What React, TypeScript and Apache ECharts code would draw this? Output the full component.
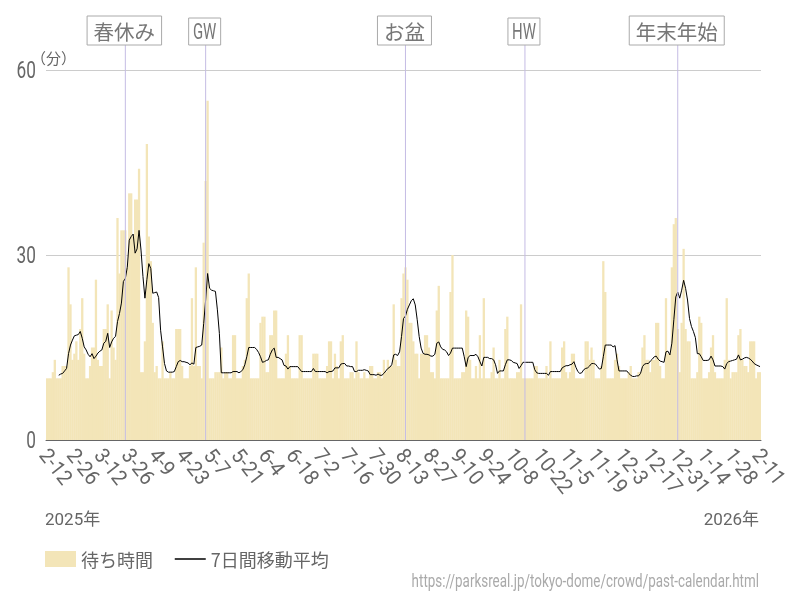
import React, { useEffect, useRef } from "react";
import * as echarts from "echarts";

const FONT = "Roboto, 'Noto Sans CJK JP', sans-serif";
const CJK = "'Noto Sans CJK JP', sans-serif";
const TEXT = "#666666";

const waitTimes = [
  10,10,10,11,13,10,10,10,12,12,
  12,28,22,13,14,16,13,18,23,14,
  10,10,12,15,15,26,13,12,12,18,
  18,22,10,21,15,13,36,27,34,34,
  34,28,40,40,33,39,39,44,11,11,
  16,48,33,29,19,11,12,10,10,16,
  10,10,10,11,10,10,18,18,18,12,
  10,10,10,12,23,12,28,12,12,10,
  32,42,55,10,10,10,11,11,11,15,
  10,11,11,10,10,17,17,10,10,10,
  12,13,23,27,10,10,10,10,10,19,
  20,20,11,11,17,17,21,21,10,10,
  10,10,14,17,12,10,10,10,10,17,
  17,10,10,10,10,10,14,14,14,10,
  10,10,10,12,16,16,10,14,12,10,
  16,17,10,10,10,11,11,10,16,11,
  10,10,11,10,10,12,12,10,10,11,
  11,10,13,11,13,12,12,22,13,12,
  12,23,27,28,26,19,19,16,14,14,
  10,14,14,17,17,15,11,11,10,21,
  25,10,10,10,10,10,24,30,10,10,
  10,10,11,11,21,20,13,10,10,12,
  10,17,10,23,10,10,10,11,15,10,
  10,13,10,10,18,20,10,10,10,10,
  11,11,22,10,10,10,10,10,10,12,
  12,10,10,10,10,12,10,16,10,10,
  10,10,10,15,16,11,10,11,14,14,
  10,10,10,10,10,16,16,13,15,13,
  10,10,10,12,29,24,10,10,10,10,
  13,14,12,10,10,10,10,11,12,10,
  10,10,11,11,15,17,13,13,11,13,
  13,19,19,12,10,10,23,14,14,28,
  35,36,18,11,19,31,18,16,16,10,
  10,10,11,20,19,10,10,10,11,15,
  17,11,10,10,10,10,13,23,13,10,
  11,11,11,17,18,13,12,12,11,16,
  16,16,10,11,11,
];

const movingAverage = [
  null,null,null,null,null,null,10.5,10.7,10.8,11.2,
  11.6,14,15.4,16.2,16.9,17,17.1,17.6,16.5,15.1,
  14.6,13.9,13.5,14,13.2,13.6,14.1,14.4,14.6,15.7,
  16,17.3,15,15.9,16.5,16.8,19.2,20.5,22.2,25.7,
  26.2,28,32.4,33,33.4,30.3,31,34,30.8,26.5,
  23,26,28.6,27.8,23.8,23.9,24,23.1,17.8,15.1,
  12.4,11.2,11,11,11,11.1,11.9,12.7,12.9,12.7,
  12.7,12.6,12.5,12.2,12.5,12.3,15,15.1,15.2,15.4,
  18.9,22.7,27,24.6,24.3,24.2,24.1,21.1,17.3,10.9,
  10.9,10.9,10.9,10.9,10.9,11.1,11.1,11.1,10.9,11.1,
  11.4,12.2,13.5,15,15,15,15,14.7,14.2,13.5,
  12.6,12.7,12.9,13,13.9,14.6,14.9,13.4,13.4,13.2,
  13,12.1,12,11.5,11.9,11.9,11.9,11.9,11.9,11.5,
  11.1,11.1,11.1,11.1,11.1,11.1,11.6,11.1,11.1,11.1,
  11.1,11.1,11.1,10.9,11.1,11.1,11.2,11.7,11.7,11.7,
  12.3,12.4,12.4,12,12,11.9,11.9,11.1,11.1,11.3,
  11.3,11.3,11.4,11.3,11.2,10.6,10.6,10.6,10.5,10.7,
  10.5,10.5,10.8,11.2,11.6,11.8,12.2,13.8,13.9,13.7,
  14.3,16.8,19.7,20.1,21.2,21.9,22.6,22.9,21.9,19.5,
  16.8,14.9,14.05,13.9,13.9,13.8,13.6,13.6,13.9,15.7,
  15.9,15.1,14.7,14.6,14.3,13.7,14.1,14.9,14.9,14.9,
  14.9,14.9,14.9,13.5,11.9,13.4,13.7,13.7,13.7,13.9,
  13.5,12.7,12,13.4,13.4,13.4,13.2,13.2,13,12.2,
  10.8,11.2,11.2,11.2,12.2,13,13,12.9,12.6,12.5,
  12.4,11.6,12.05,12.6,12.6,12.6,12.6,12.6,12.6,11.4,
  10.9,10.8,10.8,10.8,10.8,10.8,10.5,11.1,11.1,11.1,
  11.1,11.1,11.1,11.7,11.9,12.05,12.05,12.2,12.3,12.7,
  11.8,11.1,10.8,10.9,11.4,11.6,11.7,12,12.4,12.4,
  12.3,11.9,11.5,11.6,13.5,15.4,15.4,15.4,15.4,15.1,
  15.3,13,11.2,11.2,11.2,11.2,11.2,10.8,10.5,10.3,
  10.3,10.4,10.4,10.8,11.9,12.3,12.4,12.4,12.8,13.1,
  13.5,13.6,13.1,12.8,12.7,12.6,14.3,14.4,13.8,15.7,
  19.5,23.2,24,23,24.3,25.9,24.6,22.7,19.7,18.4,
  17.6,16.6,14,14,13.5,12.9,12.9,12.9,13,13.6,
  13,12,12,12,12,11.9,11.5,12.4,12.7,12.8,
  12.9,13,13.1,13.8,13,13.1,13.3,13.4,13.3,13.1,
  12.8,12.4,12.2,12.05,11.9,
];

const startMonthDay = [1, 12]; // Feb 12 (0-based month)
const categories = waitTimes.map((_, i) => {
  const d = new Date(Date.UTC(2025, startMonthDay[0], startMonthDay[1] + i));
  return `${d.getUTCMonth() + 1}-${d.getUTCDate()}`;
});

const xTickLabels = [
  "2-12","2-26","3-12","3-26","4-9","4-23","5-7","5-21","6-4","6-18","7-2","7-16","7-30",
  "8-13","8-27","9-10","9-24","10-8","10-22","11-5","11-19","12-3","12-17","12-31","1-14","1-28","2-11",
];
const yTickValues = [0, 30, 60];
const markerLabels = ["春休み", "GW", "お盆", "HW", "年末年始"];
const markerDates = ["3-24", "5-4", "8-14", "10-14", "12-31"];

export default function App() {
  const ref = useRef<HTMLDivElement>(null);
  useEffect(() => {
    const chart = echarts.init(ref.current!, undefined, { renderer: "svg" });
    chart.setOption({
      animation: false,
      grid: { left: 46, right: 39, top: 70, bottom: 160 },
      legend: {
        left: 45,
        top: 550,
        padding: 0,
        itemWidth: 31,
        itemHeight: 16,
        itemGap: 21,
        itemStyle: { borderWidth: 0 },
        data: [
          { name: "待ち時間", icon: "rect" },
          { name: "7日間移動平均", itemStyle: { opacity: 0 } },
        ],
        lineStyle: { width: 1.5, color: "#000000" },
        textStyle: { fontFamily: CJK, fontSize: 18, color: TEXT },
      },
      xAxis: {
        type: "category",
        data: categories,
        boundaryGap: true,
        axisTick: { show: false },
        axisLine: { lineStyle: { color: "#666666", width: 1 } },
        axisLabel: { show: false },
      },
      yAxis: {
        type: "value",
        min: 0,
        max: 60,
        interval: 30,
        axisLine: { show: false },
        axisTick: { show: false },
        splitLine: { lineStyle: { color: "#cccccc", width: 1 } },
        axisLabel: { show: false },
      },
      series: [
        {
          name: "待ち時間",
          type: "bar",
          data: waitTimes,
          barWidth: 2.3,
          itemStyle: { color: "#f3e5b8" },
          emphasis: { disabled: true },
        },
        {
          name: "7日間移動平均",
          type: "line",
          data: movingAverage,
          showSymbol: false,
          symbol: "none",
          itemStyle: { color: "#000000" },
          lineStyle: { color: "#000000", width: 1 },
          emphasis: { disabled: true },
          z: 5,
        },
        {
          type: "custom",
          silent: true,
          z: 6,
          data: markerDates.map((d) => [categories.indexOf(d), 60]),
          encode: { x: 0, y: 1 },
          renderItem: (p: any, api: any) => {
            const [px, py] = api.coord([api.value(0), 60]);
            const [, py0] = api.coord([api.value(0), 0]);
            const label = markerLabels[p.dataIndex];
            const ascii = /^[A-Z]+$/.test(label);
            const w = ascii ? 32 : label.length * 20.5 + 13;
            const h = ascii ? 27 : 29;
            const bottom = py - 25;
            const cx = px - 1;
            return {
              type: "group",
              children: [
                { type: "line", shape: { x1: px, y1: bottom, x2: px, y2: py0 }, style: { stroke: "#c4bce4", lineWidth: 1 } },
                { type: "rect", shape: { x: cx - w / 2, y: bottom - h, width: w, height: h }, style: { fill: "#ffffff", stroke: "#aaaaaa", lineWidth: 1 } },
                {
                  type: "text",
                  x: cx,
                  y: bottom - h / 2,
                  scaleX: ascii ? 0.68 : 1,
                  style: {
                    text: label,
                    align: "center",
                    verticalAlign: "middle",
                    fontSize: ascii ? 22 : 20.5,
                    fontFamily: ascii ? FONT : CJK,
                    fill: "#777777",
                  },
                },
              ],
            };
          },
        },
        {
          // x tick labels, narrowed as in the reference
          type: "custom",
          silent: true,
          data: xTickLabels.map((t, k) => [k * 14, 0, t]),
          encode: { x: 0, y: 1 },
          renderItem: (p: any, api: any) => {
            const [px, py] = api.coord([api.value(0), 0]);
            return {
              type: "text",
              x: px - 3,
              y: py + 11,
              rotation: (-52 * Math.PI) / 180,
              scaleX: 0.95,
              style: {
                text: xTickLabels[p.dataIndex],
                align: "left",
                verticalAlign: "middle",
                fontSize: 21,
                fontFamily: FONT,
                fill: TEXT,
              },
            };
          },
        },
        {
          // y tick labels
          type: "custom",
          silent: true,
          data: yTickValues.map((v) => [0, v]),
          encode: { x: 0, y: 1 },
          renderItem: (p: any, api: any) => {
            const [, py] = api.coord([0, api.value(1)]);
            return {
              type: "text",
              x: 36,
              y: py,
              scaleX: 0.75,
              style: {
                text: String(yTickValues[p.dataIndex]),
                align: "right",
                verticalAlign: "middle",
                fontSize: 23,
                fontFamily: FONT,
                fill: TEXT,
              },
            };
          },
        },
      ],
      graphic: [
        { type: "text", x: 31, y: 50, style: { text: "（分）", fontSize: 15, fontFamily: CJK, fill: TEXT } },
        { type: "text", x: 45, y: 510, style: { text: "2025年", fontSize: 17, fontFamily: FONT, fill: TEXT } },
        { type: "text", x: 759, y: 510, style: { text: "2026年", align: "right", fontSize: 17, fontFamily: FONT, fill: TEXT } },
        { type: "text", x: 759, y: 571, scaleX: 0.706, style: { text: "https://parksreal.jp/tokyo-dome/crowd/past-calendar.html", align: "right", fontSize: 19, fontFamily: FONT, fill: "#aaaaaa" } },
      ],
    });
    return () => chart.dispose();
  }, []);
  return <div ref={ref} style={{ position: "fixed", left: 0, top: 0, width: 800, height: 600 }} />;
}
